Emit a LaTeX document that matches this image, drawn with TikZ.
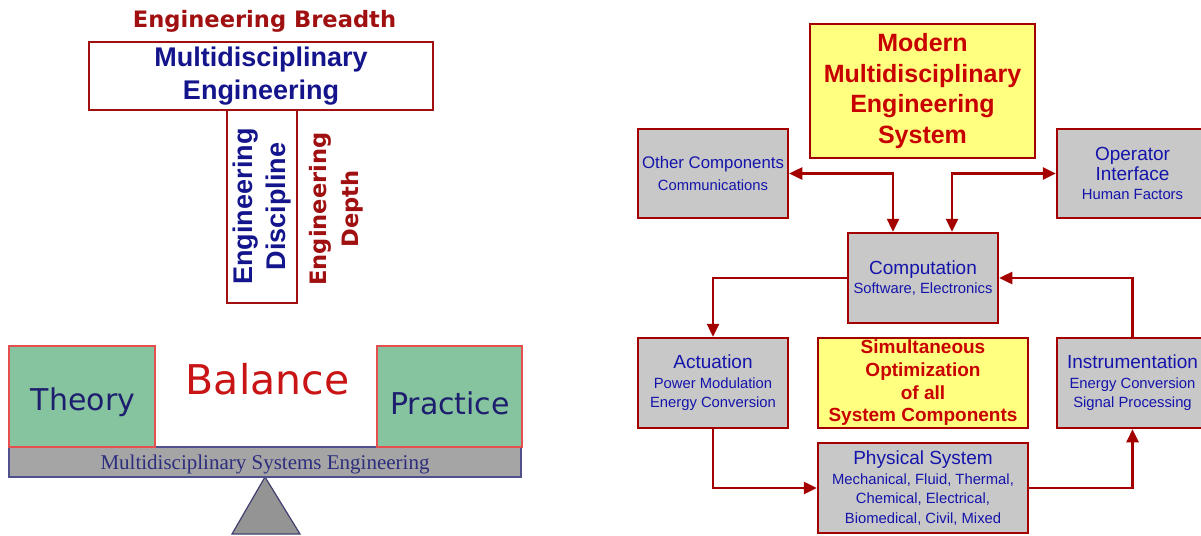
\documentclass[tikz,border=0pt]{standalone}
\usepackage{fontspec}
\setmainfont{Liberation Sans}
\newfontfamily\handfont{DejaVu Sans}
\newfontfamily\bookfont{Liberation Serif}
\usetikzlibrary{arrows.meta,calc}

\newcommand{\fsz}[2]{\fontsize{#1}{#2}\selectfont}

\definecolor{tred}{RGB}{160,16,16}
\definecolor{lred}{RGB}{165,0,0}
\definecolor{bred}{RGB}{200,0,0}
\definecolor{tblue}{RGB}{20,20,170}
\definecolor{lblue}{RGB}{20,20,140}
\definecolor{boxgray}{RGB}{200,200,200}
\definecolor{boxyel}{RGB}{255,255,128}
\definecolor{pangreen}{RGB}{134,196,160}
\definecolor{panedge}{RGB}{228,80,80}
\definecolor{balred}{RGB}{200,20,20}
\definecolor{panblue}{RGB}{30,30,110}
\definecolor{beamgray}{RGB}{165,165,165}
\definecolor{beamedge}{RGB}{80,80,140}
\definecolor{beamtext}{RGB}{45,45,125}

\begin{document}
\begin{tikzpicture}[x=1pt,y=-1pt,
  graybox/.style={draw=lred, line width=2.5pt, fill=boxgray, inner sep=0pt,
    align=center, text=tblue, font=\fsz{14.8}{19.5}},
  yelbox/.style={draw=lred, line width=2.5pt, fill=boxyel, inner sep=0pt,
    align=center, text=bred},
  conn/.style={draw=lred, line width=2.5pt, -{Triangle[length=13pt,width=12pt]}},
  dconn/.style={draw=lred, line width=2.5pt,
    {Triangle[length=13pt,width=12pt]}-{Triangle[length=13pt,width=12pt]}},
  tframe/.style={draw=tred, line width=2.2pt, inner sep=0pt, align=center,
    text=lblue, font=\bfseries\fsz{27}{32.5}},
  hand/.style={font=\handfont\bfseries\fsz{22.6}{32}, text=tred, align=center, inner sep=0pt},
  pan/.style={draw=panedge, line width=1.2pt, fill=pangreen, inner sep=0pt},
  pantext/.style={font=\handfont\fsz{30}{36}, text=panblue, inner sep=0pt, anchor=base}
]
\useasboundingbox (0,0) rectangle (1201,535);

% ---------- T-shaped engineer ----------
\node[hand] (breadth) at (264.5,21) {Engineering Breadth};
\node[tframe, minimum width=193pt, minimum height=70pt, rotate=90] (disc) at (262,206.5)
  {Engineering\\Discipline};
\node[tframe, fill=white, minimum width=344pt, minimum height=68pt] (multi) at (261,76)
  {Multidisciplinary\\Engineering};
\node[hand, rotate=90] (depth) at (336,209) {Engineering\\Depth};

% ---------- balance ----------
\coordinate (apex) at (265,477);
\fill[beamgray!90!black, draw=beamedge!80!black, line width=1.2pt]
  (apex) -- (300,534) -- (232,534) -- cycle;
\node[draw=beamedge, line width=1.5pt, fill=beamgray, minimum width=512pt,
  minimum height=30pt, inner sep=0pt, text depth=0.5pt,
  font=\bookfont\fsz{21}{24}, text=beamtext]
  (beam) at (265,462) {Multidisciplinary Systems Engineering};
\node[pan, minimum width=146pt, minimum height=101pt] (theory) at (82,396.5) {};
\node[pan, minimum width=145pt, minimum height=101pt] (practice) at (449.5,396.5) {};
\node[pantext] (theorytext) at (83,410) {Theory};
\node[pantext] (practicetext) at (450,414) {Practice};
\node[font=\handfont\fsz{41}{48}, text=balred, inner sep=0pt, anchor=base]
  (balance) at (267.5,394) {Balance};

% ---------- modern system ----------
\node[yelbox, minimum width=225pt, minimum height=134pt,
  font=\bfseries\fsz{25}{30.7}] (modern) at (922.5,91)
  {Modern\\Multidisciplinary\\Engineering\\System};
\node[graybox, minimum width=150pt, minimum height=89pt] (other) at (713,173.5)
  {{\fsz{16.8}{21}Other Components}\\[2pt]Communications};
\node[graybox, minimum width=151pt, minimum height=89pt] (oper) at (1132.5,173.5)
  {{\fsz{19}{23}Operator}\\{\fsz{19}{23}Interface}\\Human Factors};
\node[graybox, minimum width=150pt, minimum height=90pt] (comp) at (923,278)
  {{\fsz{19}{23}Computation}\\Software, Electronics};
\node[graybox, minimum width=150pt, minimum height=90pt] (act) at (713,383)
  {{\fsz{19}{23}Actuation}\\Power Modulation\\Energy Conversion};
\node[yelbox, minimum width=210pt, minimum height=90pt,
  font=\bfseries\fsz{19}{22.7}] (simul) at (923,383)
  {Simultaneous\\Optimization\\of all\\System Components};
\node[graybox, minimum width=151pt, minimum height=90pt] (inst) at (1132.5,383)
  {{\fsz{19}{23}Instrumentation}\\Energy Conversion\\Signal Processing};
\node[graybox, minimum width=210pt, minimum height=90pt] (phys) at (923,488)
  {{\fsz{19}{23}Physical System}\\Mechanical, Fluid, Thermal,\\Chemical, Electrical,\\Biomedical, Civil, Mixed};

% ---------- connectors ----------
\coordinate (cl) at ($(comp.north)+(-30,0)$);
\coordinate (cr) at ($(comp.north)+(29,0)$);
\draw[dconn] (other.east) -| (cl);
\draw[dconn] (oper.west) -| (cr);
\draw[conn] (comp.west) -| (act.north);
\draw[conn] (act.south) |- (phys.west);
\draw[conn] (phys.east) -| (inst.south);
\draw[conn] (inst.north) |- (comp.east);
\end{tikzpicture}
\end{document}
